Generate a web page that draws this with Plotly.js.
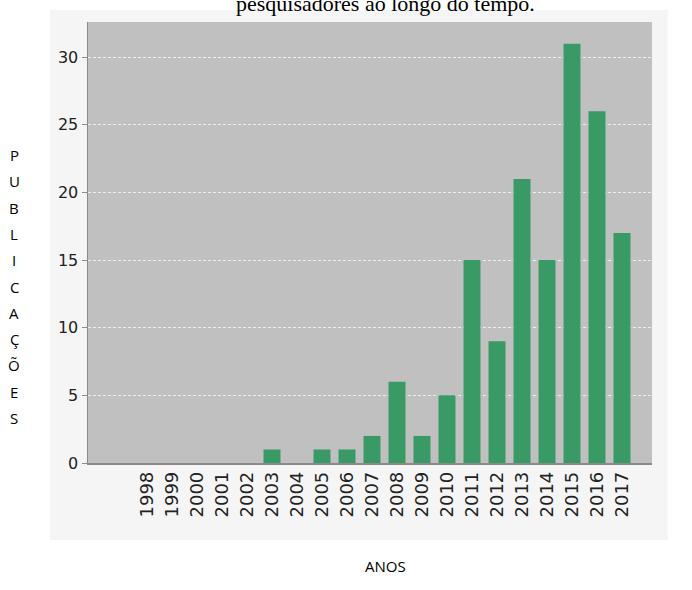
<!DOCTYPE html>
<html>
<head>
<meta charset="utf-8">
<script src="https://cdn.plot.ly/plotly-3.0.1.min.js"></script>
<style>html,body{margin:0;padding:0;background:#fff;}#chart{width:692px;height:590px;}</style>
</head>
<body>
<div id="chart"></div>
<script>
const years = ['1998','1999','2000','2001','2002','2003','2004','2005','2006','2007','2008','2009','2010','2011','2012','2013','2014','2015','2016','2017'];
const publications = [0,0,0,0,0,1,0,1,1,2,6,2,5,15,9,21,15,31,26,17];
const titleText = 'pesquisadores ao longo do tempo.';
const yLabelText = 'PUBLICAÇÕES';
const xLabelText = 'ANOS';

const trace = {
  type: 'bar',
  x: years,
  y: publications,
  marker: {color: '#3a9a66'},
  hoverinfo: 'x+y'
};

// vertical stacked y-axis label: one annotation per letter
const letters = yLabelText.split('');
const plotTopPx = 22, plotHeightPx = 441;
const firstLetterPx = 155, letterStepPx = 26.3;
const yLabelAnns = letters.map((ch, i) => ({
  text: ch, xref: 'paper', yref: 'paper',
  x: -0.131, y: (plotTopPx + plotHeightPx - (firstLetterPx + i * letterStepPx)) / plotHeightPx,
  xanchor: 'center', yanchor: 'middle', showarrow: false,
  font: {family: 'Open Sans', size: 15, color: '#000'}
}));

const layout = {
  width: 692, height: 590,
  margin: {l: 88, r: 40, t: 22, b: 127},
  paper_bgcolor: '#ffffff',
  plot_bgcolor: 'rgba(0,0,0,0)',
  bargap: 0.32,
  showlegend: false,
  xaxis: {
    type: 'category',
    range: [-2.36, 20.2],
    tickangle: -90,
    ticks: '',
    showgrid: false,
    showline: true,
    linecolor: '#8a8a8a',
    linewidth: 1.5,
    tickfont: {family: 'DejaVu Sans', size: 18, color: '#222'},
    fixedrange: true
  },
  yaxis: {
    range: [0, 32.6],
    dtick: 5,
    ticks: 'outside',
    ticklen: 5,
    tickcolor: '#8a8a8a',
    showline: true,
    linecolor: '#8a8a8a',
    linewidth: 1.5,
    showgrid: true,
    gridcolor: '#eeeeee',
    griddash: '3px,2px',
    gridwidth: 1,
    zeroline: false,
    tickfont: {family: 'DejaVu Sans', size: 16, color: '#222'},
    fixedrange: true
  },
  shapes: [
    {type: 'rect', xref: 'paper', yref: 'paper', x0: -0.0674, x1: 1.028, y0: -0.1746, y1: 1.027,
     fillcolor: '#f5f5f5', line: {width: 0}, layer: 'below'},
    {type: 'rect', xref: 'paper', yref: 'paper', x0: 0, x1: 1, y0: 0, y1: 1,
     fillcolor: '#c0c0c0', line: {width: 0}, layer: 'below'}
  ],
  annotations: [
    {text: titleText, xref: 'paper', yref: 'paper', x: 0.527, y: 1.0, yshift: 19, yanchor: 'middle',
     showarrow: false, font: {family: 'Liberation Serif', size: 22, color: '#000'}},
    {text: xLabelText, xref: 'paper', yref: 'paper', x: 0.527, y: -0.234,
     xanchor: 'center', yanchor: 'middle', showarrow: false,
     font: {family: 'Open Sans', size: 15, color: '#000'}}
  ].concat(yLabelAnns)
};

Plotly.newPlot('chart', [trace], layout, {displayModeBar: false, staticPlot: true});
</script>
</body>
</html>
